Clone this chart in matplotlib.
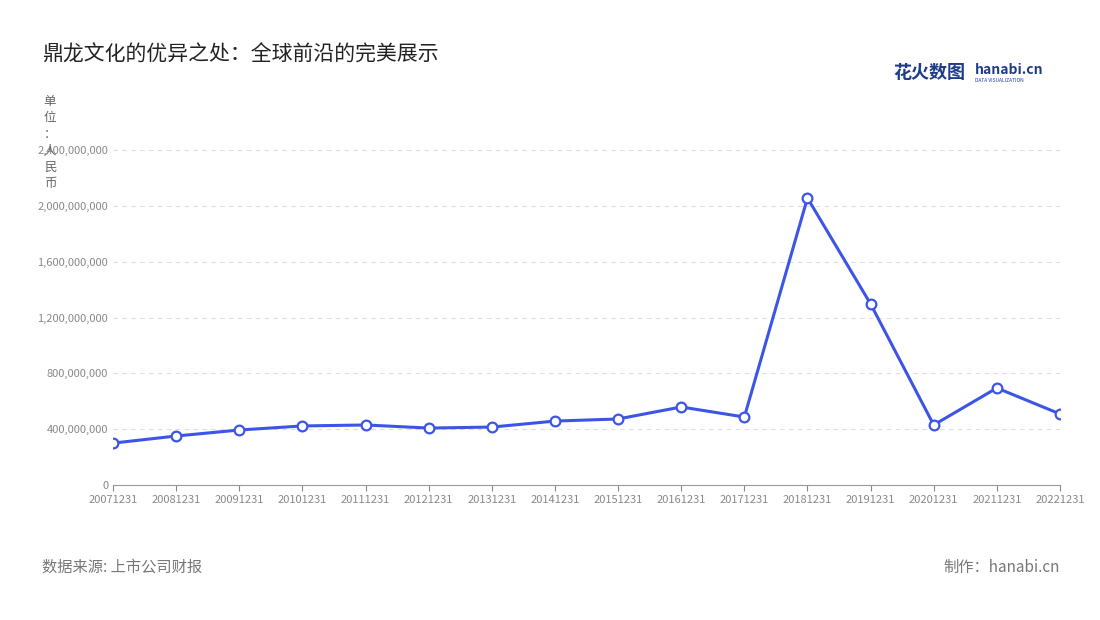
import matplotlib.pyplot as plt
from matplotlib.ticker import FuncFormatter

plt.rcParams['font.family'] = ['Noto Sans CJK SC', 'DejaVu Sans']

years = ['20071231', '20081231', '20091231', '20101231', '20111231', '20121231',
         '20131231', '20141231', '20151231', '20161231', '20171231', '20181231',
         '20191231', '20201231', '20211231', '20221231']
values = [300e6, 351e6, 394e6, 423e6, 430e6, 408e6, 415e6, 458e6, 473e6,
          559e6, 487e6, 2056e6, 1297e6, 430e6, 695e6, 509e6]
yticks = [0, 400e6, 800e6, 1200e6, 1600e6, 2000e6, 2400e6]

fig = plt.figure(figsize=(11, 6.2), dpi=100)
ax = fig.add_axes([113/1100, 1-485/620, (1060-113)/1100, 335/620])

x = range(len(years))
ax.plot(x, values, color='#3d55e6', lw=2.2, marker='o', ms=7,
        mfc='white', mec='#3d55e6', mew=1.6, zorder=3)

ax.set_xlim(0, len(years)-1)
ax.set_ylim(0, 2400e6)
ax.set_yticks(yticks)
ax.yaxis.set_major_formatter(FuncFormatter(lambda v, p: f'{int(v):,}'))
ax.set_xticks(list(x))
ax.set_xticklabels(years)
ax.tick_params(axis='both', labelsize=8, colors='#888888', length=4)
ax.tick_params(axis='y', length=0)
ax.grid(axis='y', ls=(0, (4, 4)), color='#dddddd', lw=0.8)
for s in ['top', 'right', 'left']:
    ax.spines[s].set_visible(False)
ax.spines['bottom'].set_color('#999999')

fig.text(42/1100, 1-55/620, '鼎龙文化的优异之处：全球前沿的完美展示', fontsize=15,
         color='#222222', va='center')
fig.text(50/1100, 1-95/620, '单\n位\n：\n人\n民\n币', fontsize=9, color='#666666',
         va='top', ha='center', linespacing=1.35)
fig.text(42/1100, 1-567/620, '数据来源: 上市公司财报', fontsize=11, color='#777777', va='center')
fig.text(1060/1100, 1-567/620, '制作：hanabi.cn', fontsize=11, color='#777777',
         va='center', ha='right')
fig.text(893/1100, 1-72/620, '花火数图', fontsize=13, color='#1f3c88', weight='bold', va='center')
fig.text(975/1100, 1-70/620, 'hanabi.cn', fontsize=10, color='#1f3c88', weight='bold', va='center')
fig.text(975/1100, 1-80/620, 'DATA VISUALIZATION', fontsize=3.5, color='#1f3c88', va='center')

fig.savefig('out.png', dpi=100)
